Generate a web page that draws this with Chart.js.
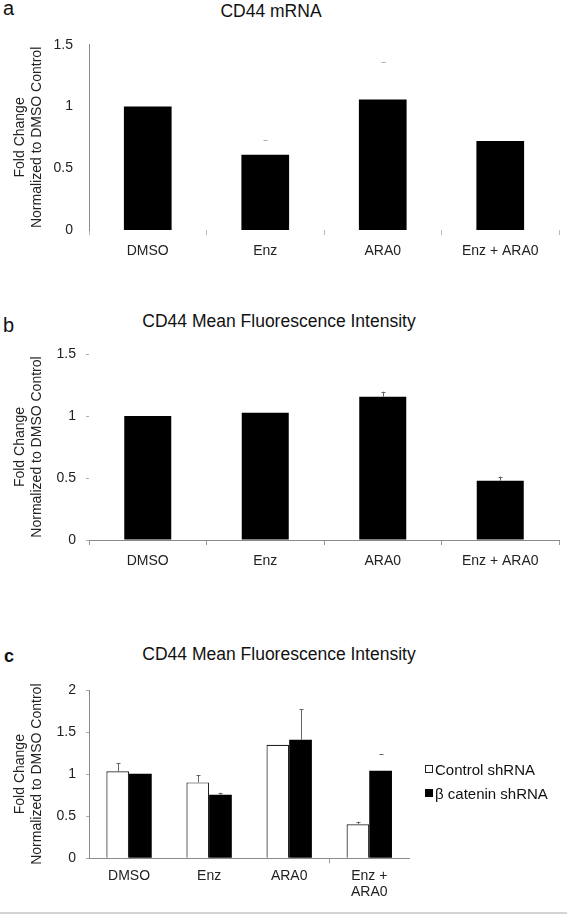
<!DOCTYPE html>
<html>
<head>
<meta charset="utf-8">
<script src="https://cdn.jsdelivr.net/npm/chart.js@4"></script>
<style>
  body { margin: 0; background: #fff; font-family: "Liberation Sans", Arial, sans-serif; color: #111; }
  #page { position: relative; width: 567px; height: 915px; overflow: hidden; }
  .panel { position: absolute; left: 0; width: 567px; }
  .letter { position: absolute; font-size: 20px; line-height: 20px; }
  .title { position: absolute; width: 400px; text-align: center; font-size: 17.5px; line-height: 17.5px; }
  #legendC { position: absolute; left: 425px; top: 760px; font-size: 15px; }
  #legendC .item { display: flex; align-items: center; height: 18px; margin-bottom: 6px; white-space: nowrap; }
  #legendC .box { width: 8px; height: 8px; margin-right: 2px; box-sizing: border-box; }
  #sep { position: absolute; left: 0; top: 912px; width: 567px; height: 2px; background: #d4d4d4; }
</style>
</head>
<body>
<div id="page">
  <div class="letter" style="left:3px;top:-2px;">a</div>
  <div class="title" style="left:71px;top:3px;">CD44 mRNA</div>
  <div class="panel" style="top:0;height:280px;"><canvas id="chartA"></canvas></div>

  <div class="letter" style="left:3px;top:315px;">b</div>
  <div class="title" style="left:79px;top:313px;">CD44 Mean Fluorescence Intensity</div>
  <div class="panel" style="top:290px;height:290px;"><canvas id="chartB"></canvas></div>

  <div class="letter" style="left:4px;top:646px;font-weight:bold;font-size:18px;">c</div>
  <div class="title" style="left:79px;top:646px;">CD44 Mean Fluorescence Intensity</div>
  <div class="panel" style="top:630px;height:283px;"><canvas id="chartC"></canvas></div>
  <div id="legendC"></div>
  <div id="sep"></div>
</div>
<script>
// categories
const categories = ["DMSO", "Enz", "ARA0", "Enz + ARA0"];
const categoriesC = ["DMSO", "Enz", "ARA0", ["Enz +", "ARA0"]];

// a: CD44 mRNA
const mrnaValues = [1.0, 0.61, 1.056, 0.72];
const mrnaErrors = [0, 0.116, 0.307, 0];

// b: CD44 MFI
const mfiValues = [1.0, 1.027, 1.155, 0.478];
const mfiErrors = [0, 0, 0.041, 0.033];

// c: CD44 MFI with shRNA
const controlValues = [1.033, 0.902, 1.349, 0.404];
const controlErrors = [0.10, 0.087, 0, 0.031];
const betaValues = [1.005, 0.755, 1.409, 1.04];
const betaErrors = [0, 0.024, 0.361, 0.195];
// the stem of the last beta error bar is too faint to see, only its cap shows
const betaErrorStem = [true, true, true, false];

const yMaxAB = 1.5, yMaxC = 2, yStep = 0.5;
const yTitle = ["Fold Change", "Normalized to DMSO Control"];

Chart.defaults.font.family = '"Liberation Sans", Arial, sans-serif';
Chart.defaults.color = "#222";
Chart.defaults.animation = false;

// simple error bar drawing (upper side only)
const errorBars = {
  id: "errorBars",
  afterDatasetsDraw(chart, args, opts) {
    const ctx = chart.ctx;
    const y = chart.scales.y;
    chart.data.datasets.forEach((ds, di) => {
      if (!ds.errors) return;
      chart.getDatasetMeta(di).data.forEach((bar, i) => {
        const e = ds.errors[i];
        if (!e) return;
        const y0 = y.getPixelForValue(ds.data[i]);
        const y1 = y.getPixelForValue(ds.data[i] + e);
        const x = Math.round(bar.x) + 0.5;
        ctx.save();
        ctx.lineWidth = 1;
        if (opts.stem && !(ds.stem && !ds.stem[i])) {
          ctx.strokeStyle = opts.lineColor;
          ctx.beginPath();
          ctx.moveTo(x, y0);
          ctx.lineTo(x, y1);
          ctx.stroke();
        }
        ctx.strokeStyle = opts.capColor;
        ctx.beginPath();
        ctx.moveTo(x - 2, Math.round(y1) + 0.5);
        ctx.lineTo(x + 2, Math.round(y1) + 0.5);
        ctx.stroke();
        ctx.restore();
      });
    });
  }
};

function makeChart(id, labels, datasets, o) {
  return new Chart(document.getElementById(id), {
    type: "bar",
    data: { labels: labels, datasets: datasets },
    plugins: [errorBars],
    options: {
      responsive: true,
      maintainAspectRatio: false,
      layout: { padding: { left: 0, right: o.padRight, top: o.padTop, bottom: o.padBottom } },
      plugins: {
        legend: { display: false },
        tooltip: { enabled: false },
        errorBars: o.err
      },
      scales: {
        x: {
          grid: { display: true, drawOnChartArea: false, drawTicks: true, tickLength: 5, color: o.xTickColor, offset: true },
          border: { display: o.xBorder, color: "#8a8a8a" },
          ticks: { font: { size: 14, lineHeight: 1.15 }, padding: o.xPad, maxRotation: 0, autoSkip: false },
          afterFit: s => { s.height = o.xHeight; }
        },
        y: {
          min: 0, max: o.yMax,
          grid: { display: o.yTicks, drawOnChartArea: false, drawTicks: true, tickLength: 3, color: "#aaa" },
          border: { display: o.yBorder, color: "#8a8a8a" },
          ticks: { stepSize: yStep, font: { size: 14 }, padding: o.yPad, callback: v => String(v) },
          title: { display: true, text: yTitle, font: { size: 14, lineHeight: 1.2 }, padding: { top: 11.6, bottom: 0 }, color: "#222" },
          afterFit: s => { s.width = 89; }
        }
      }
    }
  });
}

makeChart("chartA", categories, [{
  data: mrnaValues, errors: mrnaErrors,
  backgroundColor: "#000", categoryPercentage: 1, barPercentage: 0.406
}], { padRight: 8, padTop: 44.8, padBottom: 10, xHeight: 40, xPad: 8, xTickColor: "#bbb",
      xBorder: false, yBorder: true, yTicks: false, yPad: 13, yMax: yMaxAB,
      err: { stem: false, lineColor: "#aaa", capColor: "#aaa" } });

makeChart("chartB", categories, [{
  data: mfiValues, errors: mfiErrors,
  backgroundColor: "#000", categoryPercentage: 1, barPercentage: 0.40
}], { padRight: 8, padTop: 64, padBottom: 0, xHeight: 40, xPad: 8, xTickColor: "#999",
      xBorder: true, yBorder: false, yTicks: true, yPad: 10, yMax: yMaxAB,
      err: { stem: true, lineColor: "#666", capColor: "#666" } });

// in panel c only the tick between ARA0 and Enz + ARA0 shows
const chartC = makeChart("chartC", categoriesC, [{
  label: "Control shRNA", data: controlValues, errors: controlErrors,
  backgroundColor: "#fff", borderColor: "#222", borderWidth: 1.2, borderSkipped: "bottom",
  categoryPercentage: 0.567, barPercentage: 1
}, {
  label: "\u03b2 catenin shRNA", data: betaValues, errors: betaErrors, stem: betaErrorStem,
  backgroundColor: "#000", borderColor: "#000", borderWidth: 0,
  categoryPercentage: 0.567, barPercentage: 1
}], { padRight: 157.7, padTop: 60, padBottom: 9.7, xHeight: 45, xPad: 5,
      xTickColor: c => c.index === 3 ? "#999" : "rgba(0,0,0,0)",
      xBorder: true, yBorder: true, yTicks: true, yPad: 10, yMax: yMaxC,
      err: { stem: true, lineColor: "#666", capColor: "#666" } });

// html legend built from the chart's datasets
const legendC = document.getElementById("legendC");
chartC.data.datasets.forEach(ds => {
  const item = document.createElement("div");
  item.className = "item";
  const box = document.createElement("span");
  box.className = "box";
  box.style.background = ds.backgroundColor;
  box.style.border = "1px solid " + (ds.borderColor || "#000");
  const txt = document.createElement("span");
  txt.textContent = ds.label;
  item.appendChild(box);
  item.appendChild(txt);
  legendC.appendChild(item);
});
</script>
</body>
</html>
